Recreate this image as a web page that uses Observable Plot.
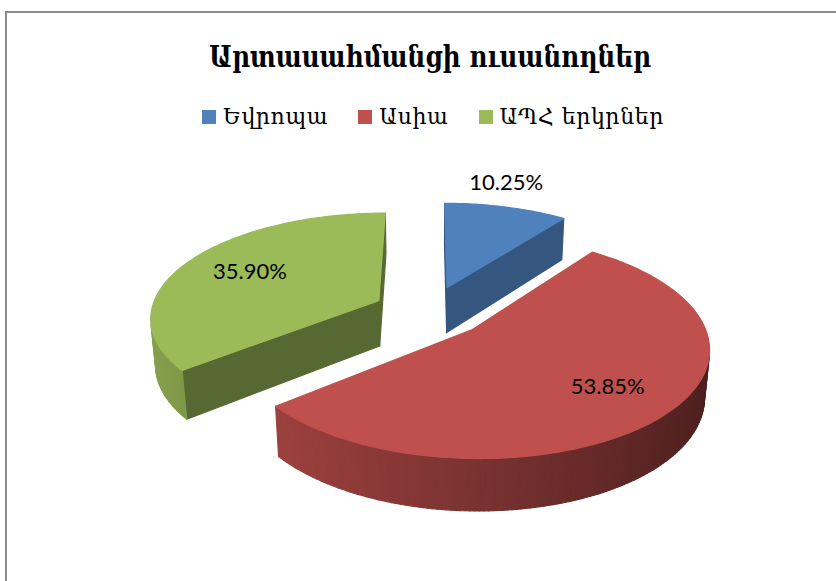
<!DOCTYPE html>
<html><head><meta charset="utf-8">
<script src="https://cdn.jsdelivr.net/npm/d3@7"></script>
<script src="https://cdn.jsdelivr.net/npm/@observablehq/plot@0.6"></script>
<style>
body{margin:0;background:#fff;}
#wrap{position:relative;width:836px;height:581px;overflow:hidden;background:#fff;}
#frame{position:absolute;left:5px;top:11px;width:860px;height:600px;border-top:2px solid #8c8c8c;border-left:2px solid #8c8c8c;}
#title{position:absolute;left:12px;top:37px;width:836px;text-align:center;font-family:"DejaVu Serif";font-weight:bold;font-size:29px;line-height:40px;color:#000;white-space:nowrap;transform:scaleX(0.85);transform-origin:418px 0;}
#legend{position:absolute;left:15px;top:104px;width:836px;display:flex;justify-content:center;gap:30px;font-family:"DejaVu Serif";font-size:22px;letter-spacing:0.6px;line-height:26px;color:#000;}
#legend .item{display:flex;align-items:center;white-space:nowrap;}
#legend .sw{display:inline-block;width:14px;height:14px;margin-right:7px;}
#chart{position:absolute;left:0;top:140px;}
</style></head>
<body><div id="wrap"><div id="frame"></div><div id="title"></div><div id="legend"></div><div id="chart"></div></div>
<script>
// ---- data ----
const title = "Արտասահմանցի ուսանողներ";
const categories = ["Եվրոպա", "Ասիա", "ԱՊՀ երկրներ"];
const shares = [10.25, 53.85, 35.90];
const labels = ["10.25%", "53.85%", "35.90%"];

// ---- styles ----
const topColors = {"Եվրոպա": "#4f81bd", "Ասիա": "#c0504d", "ԱՊՀ երկրներ": "#9bbb59"};
const faceShade = {"Եվրոպա": 0.67, "Ասիա": 0.6, "ԱՊՀ երկրներ": 0.56};

document.getElementById("title").textContent = title;
const leg = document.getElementById("legend");
categories.forEach(c => {
  const it = document.createElement("span"); it.className = "item";
  const sw = document.createElement("span"); sw.className = "sw"; sw.style.background = topColors[c];
  it.appendChild(sw); it.appendChild(document.createTextNode(c)); leg.appendChild(it);
});

// ---- 3D pie geometry ----
const TAU = 2 * Math.PI, DEG = Math.PI / 180;
const phi = 27 * DEG, S = Math.sin(phi), C = Math.cos(phi);
const DIST = 6, THICK = 0.23, EXPLODE = 0.25;
const cam = [0, DIST * S, DIST * C];
function project(X, Y, Z) {
  const d = DIST - Y * S - Z * C, k = DIST / d;
  return [X * k, (Z * S - Y * C) * k];
}
function shadeColor(hex, k) {
  const c = d3.rgb(hex);
  return d3.rgb(c.r * k, c.g * k, c.b * k).formatHex();
}
const total = d3.sum(shares);
let acc = 0;
const slices = categories.map((name, i) => {
  const a0 = acc / total * TAU; acc += shares[i]; const a1 = acc / total * TAU;
  const mid = (a0 + a1) / 2;
  return {name, i, a0, a1, mid, ox: EXPLODE * Math.sin(mid), oz: -EXPLODE * Math.cos(mid)};
});
const rim = (s, t, r, Y) => [s.ox + r * Math.sin(t), Y, s.oz - r * Math.cos(t)];
const camDist = s => Math.hypot(s.ox - cam[0], cam[1], s.oz - cam[2]);
const order = slices.slice().sort((a, b) => camDist(b) - camDist(a));

const rows = [];
let pid = 0;
function addPoly(pts, color) {
  const id = pid++;
  pts.forEach(p => { const [x, y] = project(...p); rows.push({id, x, y, color}); });
}
const visible = (P, na) => {
  const n = [Math.sin(na), 0, -Math.cos(na)];
  return (cam[0] - P[0]) * n[0] + (cam[1] - P[1]) * n[1] + (cam[2] - P[2]) * n[2] > 0;
};
for (const s of order) {
  const top = topColors[s.name];
  const apexT = [s.ox, 0, s.oz], apexB = [s.ox, -THICK, s.oz];
  // radial faces
  for (const [a, na] of [[s.a0, s.a0 - Math.PI / 2], [s.a1, s.a1 + Math.PI / 2]]) {
    if (visible(apexT, na)) {
      addPoly([apexT, rim(s, a, 1, 0), rim(s, a, 1, -THICK), apexB, apexT], shadeColor(top, faceShade[s.name]));
    }
  }
  // outer wall, shaded by its facing
  const n = Math.ceil((s.a1 - s.a0) / DEG);
  for (let j = 0; j < n; j++) {
    const t0 = s.a0 + (s.a1 - s.a0) * j / n, t1 = s.a0 + (s.a1 - s.a0) * (j + 1) / n, tm = (t0 + t1) / 2;
    if (!visible(rim(s, tm, 1, 0), tm)) continue;
    const k = 0.63 - 0.24 * Math.sin(tm);
    addPoly([rim(s, t0, 1, 0), rim(s, t1, 1, 0), rim(s, t1, 1, -THICK), rim(s, t0, 1, -THICK), rim(s, t0, 1, 0)], shadeColor(top, k));
  }
  // top face
  const pts = [apexT];
  for (let j = 0; j <= n; j++) pts.push(rim(s, s.a0 + (s.a1 - s.a0) * j / n, 1, 0));
  pts.push(apexT);
  addPoly(pts, top);
}

// labels
const inside = [], outside = [];
slices.forEach(s => {
  const outsideLabel = shares[s.i] < 15;
  const p = rim(s, s.mid, outsideLabel ? 1 : 0.7, 0);
  const [x, y] = project(...p);
  (outsideLabel ? outside : inside).push({x, y, text: labels[s.i]});
});

const K = 228, CX = 429, CY = 171, W = 836, HGT = 441;
const chart = Plot.plot({
  width: W, height: HGT, margin: 0,
  x: {domain: [-CX / K, (W - CX) / K], range: [0, W], axis: null},
  y: {domain: [-CY / K, (HGT - CY) / K], range: [0, HGT], axis: null},
  color: {type: "identity"},
  marks: [
    Plot.line(rows, {x: "x", y: "y", z: "id", fill: "color", stroke: "color", strokeWidth: 1.2, strokeLinejoin: "round", curve: "linear"}),
    Plot.text(inside, {x: "x", y: "y", text: "text", dx: 5, fontSize: 22, fontFamily: "Lato", fill: "#000"}),
    Plot.text(outside, {x: "x", y: "y", text: "text", dy: -24, fontSize: 22, fontFamily: "Lato", fill: "#000"})
  ]
});
document.getElementById("chart").appendChild(chart);
</script>
</body></html>
